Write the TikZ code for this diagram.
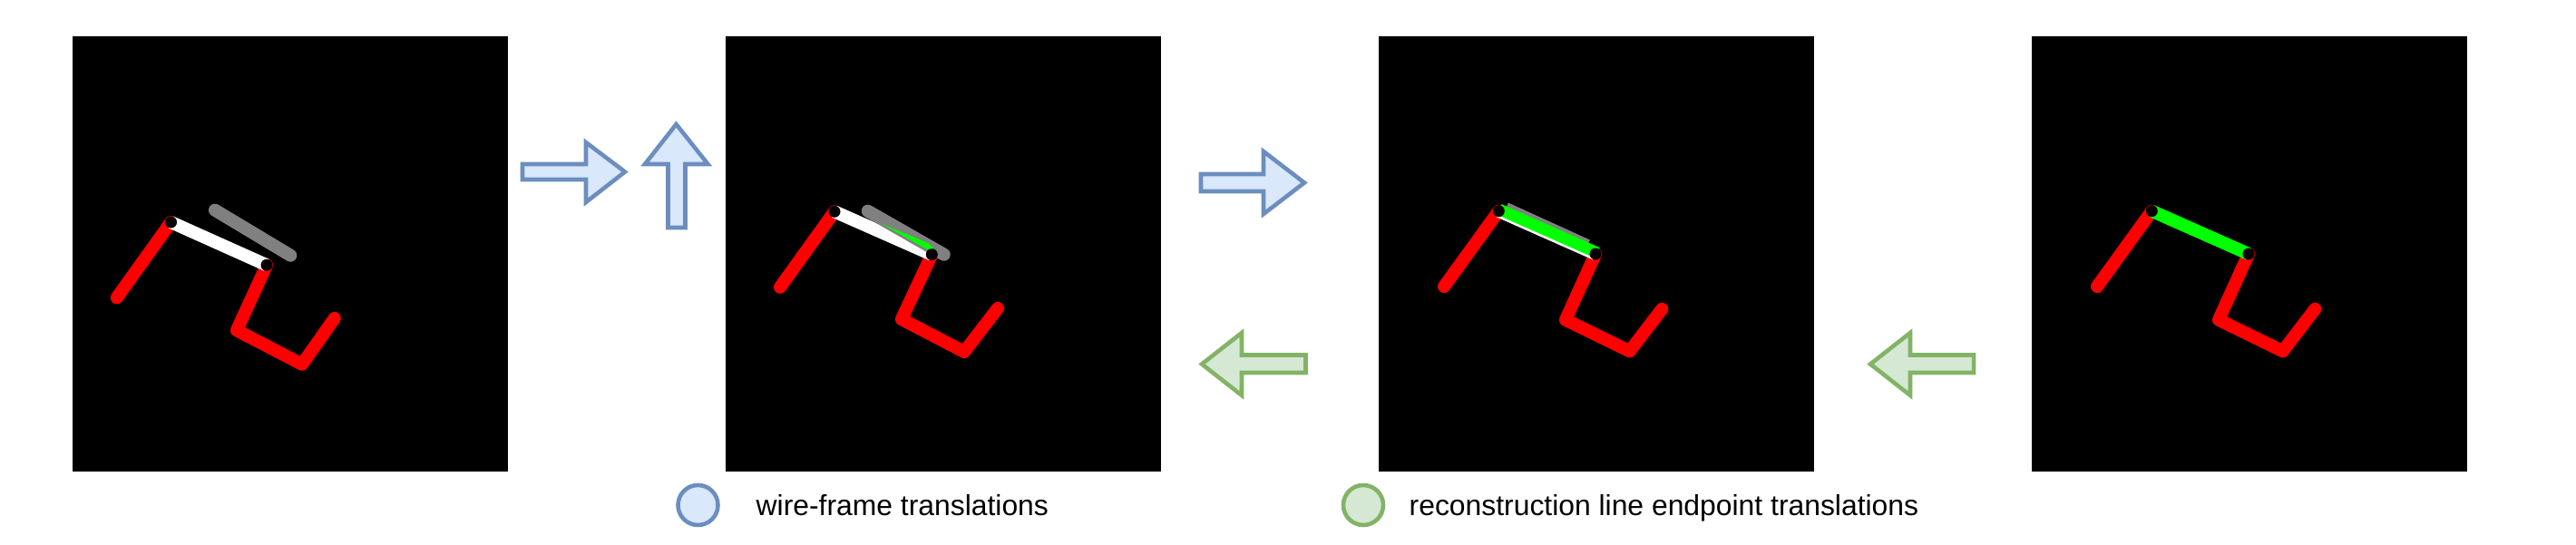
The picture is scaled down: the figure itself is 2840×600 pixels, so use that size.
\documentclass[tikz,border=0pt]{standalone}
\usepackage{fontspec}
\setmainfont{Liberation Sans}
\usetikzlibrary{positioning,calc}
\definecolor{blueFill}{HTML}{DAE8FC}
\definecolor{blueLine}{HTML}{6C8EBF}
\definecolor{greenFill}{HTML}{D5E8D4}
\definecolor{greenLine}{HTML}{82B366}
\definecolor{wireGreen}{HTML}{00FF00}
\definecolor{wireGray}{HTML}{808080}
\tikzset{
    panel/.style={fill=black, inner sep=0pt, minimum size=4.8cm},
    wire/.style={line width=4pt, line cap=round, line join=round},
    flat/.style={line width=4pt},
    joint/.style={fill=black},
    bluearrow/.style={draw=blueLine, fill=blueFill, line width=1.3pt, miter limit=10},
    greenarrow/.style={draw=greenLine, fill=greenFill, line width=1.3pt, miter limit=10},
    keyblue/.style={circle, draw=blueLine, fill=blueFill, line width=1.3pt, minimum size=0.44cm, inner sep=0pt},
    keygreen/.style={circle, draw=greenLine, fill=greenFill, line width=1.3pt, minimum size=0.44cm, inner sep=0pt},
    legendtext/.style={inner sep=0pt, anchor=base west, font=\fontsize{9.06pt}{11pt}\selectfont},
}

\begin{document}
\begin{tikzpicture}[x=0.01cm, y=-0.01cm]
    \useasboundingbox (0,0) rectangle (2840,600);

    \node[panel] (frameA) at (320,280) {};
    \node[panel] (frameB) at (1040,280) {};
    \node[panel] (frameC) at (1760,280) {};
    \node[panel] (frameD) at (2480,280) {};

    % first frame
    \draw[wire, red] (128.8,328.3) -- (188.5,245);
    \draw[wire, red] (294,292.3) -- (261,364.3) -- (333,401.7) -- (368.8,351);
    \draw[flat, white] (188.5,245) -- (294,292.3);
    \draw[wire, wireGray] (237,231.7) -- (320.3,281.7);
    \fill[joint] (188.5,245) circle (0.065cm);
    \fill[joint] (294,292.3) circle (0.065cm);

    % second frame
    \draw[wire, red] (860,316.7) -- (920,233.3);
    \draw[wire, red] (1027.3,280.7) -- (994,352) -- (1063,388) -- (1100,340);
    \draw[flat, white] (920,233.3) -- (1027.3,280.7);
    \draw[wire, wireGray] (956.7,232.7) -- (1040.7,280.7);
    \fill[wireGreen] (971.7,246.7) -- (1023,268) -- (1030,274) -- (1022,275) -- cycle;
    \fill[joint] (920,233.3) circle (0.065cm);
    \fill[joint] (1027.3,280.7) circle (0.065cm);

    % third frame
    \draw[wire, red] (1592,316) -- (1652.3,232.7);
    \draw[wire, red] (1759,280) -- (1726,352.7) -- (1796.7,387.3) -- (1832.3,340.7);
    \draw[flat, wireGray] (1660,230) -- (1750,271);
    \draw[flat, white] (1652.3,232.7) -- (1759,280);
    \draw[line width=3.6pt, wireGreen] (1653,231) -- (1761,278.8);
    \fill[joint] (1652.3,232.7) circle (0.065cm);
    \fill[joint] (1759,280) circle (0.065cm);

    % fourth frame
    \draw[wire, red] (2312,316) -- (2372.3,232.7);
    \draw[wire, red] (2479,280) -- (2446,352.7) -- (2516.7,387.3) -- (2552.3,340.7);
    \draw[flat, wireGreen] (2372.3,232.7) -- (2479,280);
    \fill[joint] (2372.3,232.7) circle (0.065cm);
    \fill[joint] (2479,280) circle (0.065cm);

    % translations
    \draw[bluearrow] (576,181) -- (646,181) -- (646,157) -- (689,189.5) -- (646,223) -- (646,198) -- (576,198) -- cycle;
    \draw[bluearrow] (736.5,251) -- (736.5,181) -- (711,181) -- (745.5,137) -- (780.5,181) -- (755.5,181) -- (755.5,251) -- cycle;
    \draw[bluearrow] (1324,192) -- (1393,192) -- (1393,167) -- (1438,201.5) -- (1393,236) -- (1393,211) -- (1324,211) -- cycle;
    \draw[greenarrow] (1439.5,391.5) -- (1369,391.5) -- (1369,367) -- (1325,401.5) -- (1369,436) -- (1369,411) -- (1439.5,411) -- cycle;
    \draw[greenarrow] (2176,391.5) -- (2106,391.5) -- (2106,367) -- (2062,401.5) -- (2106,436) -- (2106,411) -- (2176,411) -- cycle;

    % legend
    \node[keyblue] (keyBlue) at (769.5,557) {};
    \node[keygreen] (keyGreen) at (1503,557) {};
    \node[legendtext] (labelBlue) at (833,568) {wire-frame translations};
    \node[legendtext] (labelGreen) at (1553,568) {reconstruction line endpoint translations};
\end{tikzpicture}
\end{document}
